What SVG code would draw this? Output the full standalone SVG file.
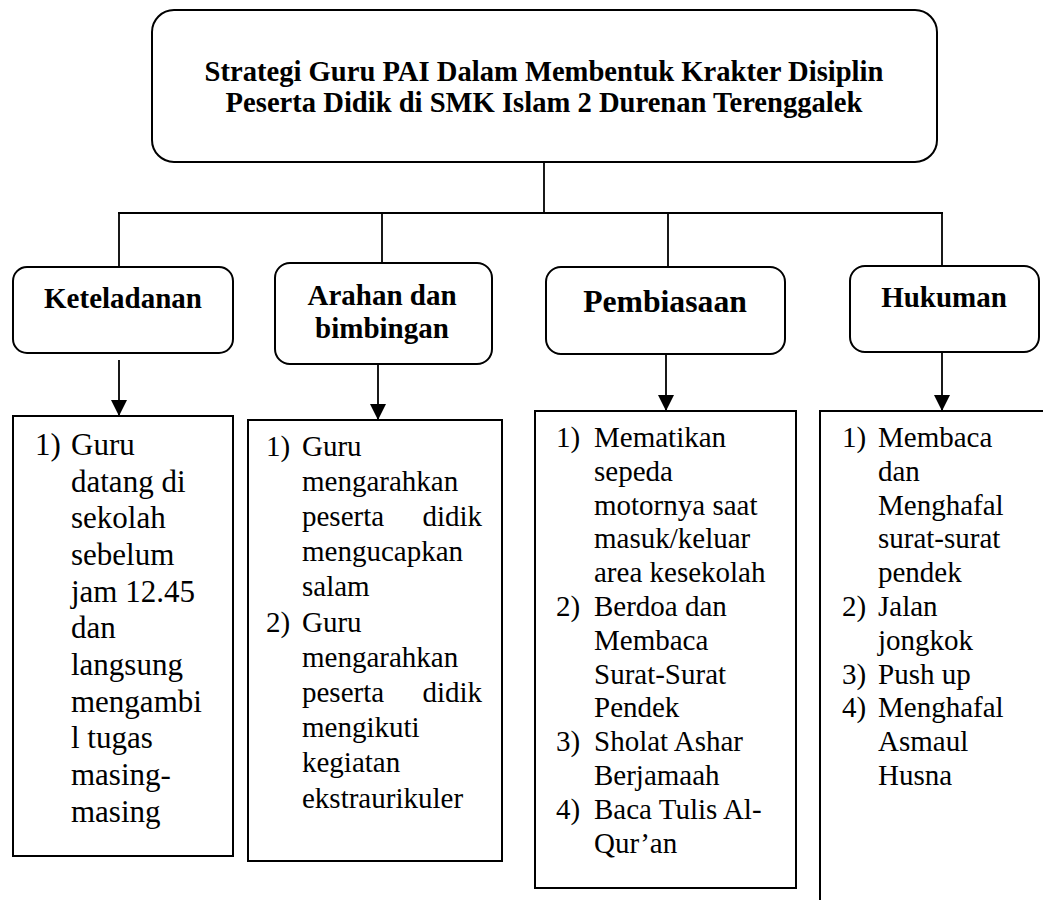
<svg xmlns="http://www.w3.org/2000/svg" width="1043" height="900" viewBox="0 0 1043 900">
<style>
.box{fill:#fff;stroke:#000;stroke-width:2}
.ln{fill:none;stroke:#000;stroke-width:1.8}
.h{font-family:"Liberation Serif","Times New Roman",serif;font-weight:bold;fill:#000;text-anchor:middle}
.t{font-family:"Liberation Serif","Times New Roman",serif;font-size:29px;fill:#000}
.t1{font-family:"Liberation Serif","Times New Roman",serif;font-size:31px;fill:#000}
</style>
<defs>
<marker id="ah" markerWidth="16" markerHeight="16" refX="16" refY="8" orient="auto" markerUnits="userSpaceOnUse">
<path d="M0,0 L16,8 L0,16 Z" fill="#000"/>
</marker>
</defs>
<rect x="0" y="0" width="1043" height="900" fill="#fff"/>
<g id="connectors">
<line class="ln" x1="544" y1="162" x2="544" y2="213"/>
<line class="ln" x1="118" y1="213" x2="943" y2="213"/>
<line class="ln" x1="119" y1="213" x2="119" y2="267"/>
<line class="ln" x1="382" y1="213" x2="382" y2="263"/>
<line class="ln" x1="668" y1="213" x2="668" y2="267"/>
<line class="ln" x1="942" y1="213" x2="942" y2="266"/>
<line class="ln" x1="119" y1="360" x2="119" y2="416" marker-end="url(#ah)"/>
<line class="ln" x1="378" y1="364" x2="378" y2="420" marker-end="url(#ah)"/>
<line class="ln" x1="666" y1="354" x2="666" y2="411" marker-end="url(#ah)"/>
<line class="ln" x1="942" y1="352" x2="942" y2="411" marker-end="url(#ah)"/>
</g>
<g id="root">
<rect class="box" x="152" y="10" width="785" height="152" rx="22"/>
<text class="h" x="544" y="81" font-size="28.6">Strategi Guru PAI Dalam Membentuk Krakter Disiplin</text>
<text class="h" x="544" y="112" font-size="28.6">Peserta Didik di SMK Islam 2 Durenan Terenggalek</text>
</g>
<g id="keteladanan">
<rect class="box" x="13" y="267" width="220" height="86" rx="14"/>
<text class="h" x="123" y="308" font-size="29">Keteladanan</text>
</g>
<g id="arahan">
<rect class="box" x="275" y="263" width="217" height="101" rx="15"/>
<text class="h" x="382" y="305" font-size="29">Arahan dan</text>
<text class="h" x="382" y="338" font-size="29">bimbingan</text>
</g>
<g id="pembiasaan">
<rect class="box" x="546" y="267" width="239" height="87" rx="15"/>
<text class="h" x="665" y="312" font-size="31.7">Pembiasaan</text>
</g>
<g id="hukuman">
<rect class="box" x="850" y="266" width="189" height="86" rx="15"/>
<text class="h" x="944" y="307" font-size="29">Hukuman</text>
</g>
<g id="list-keteladanan">
<rect class="box" x="13" y="416" width="220" height="440"/>
<text class="t1" x="35" y="455">1)</text>
<text class="t1" x="71" y="455">Guru</text>
<text class="t1" x="71" y="492">datang di</text>
<text class="t1" x="71" y="528">sekolah</text>
<text class="t1" x="71" y="565">sebelum</text>
<text class="t1" x="71" y="602">jam 12.45</text>
<text class="t1" x="71" y="638">dan</text>
<text class="t1" x="71" y="675">langsung</text>
<text class="t1" x="71" y="712">mengambi</text>
<text class="t1" x="71" y="748">l tugas</text>
<text class="t1" x="71" y="785">masing-</text>
<text class="t1" x="71" y="822">masing</text>
</g>
<g id="list-arahan">
<rect class="box" x="248" y="420" width="254" height="441"/>
<text class="t" x="266" y="456">1)</text>
<text class="t" x="302" y="456">Guru</text>
<text class="t" x="302" y="491">mengarahkan</text>
<text class="t" x="302" y="526">peserta</text>
<text class="t" x="482" y="526" text-anchor="end">didik</text>
<text class="t" x="302" y="561">mengucapkan</text>
<text class="t" x="302" y="596">salam</text>
<text class="t" x="266" y="632">2)</text>
<text class="t" x="302" y="632">Guru</text>
<text class="t" x="302" y="667">mengarahkan</text>
<text class="t" x="302" y="702">peserta</text>
<text class="t" x="482" y="702" text-anchor="end">didik</text>
<text class="t" x="302" y="737">mengikuti</text>
<text class="t" x="302" y="772">kegiatan</text>
<text class="t" x="302" y="808">ekstraurikuler</text>
</g>
<g id="list-pembiasaan">
<rect class="box" x="535" y="411" width="261" height="477"/>
<text class="t" x="556" y="447">1)</text>
<text class="t" x="594" y="447">Mematikan</text>
<text class="t" x="594" y="481">sepeda</text>
<text class="t" x="594" y="515">motornya saat</text>
<text class="t" x="594" y="548">masuk/keluar</text>
<text class="t" x="594" y="582">area kesekolah</text>
<text class="t" x="556" y="616">2)</text>
<text class="t" x="594" y="616">Berdoa dan</text>
<text class="t" x="594" y="650">Membaca</text>
<text class="t" x="594" y="684">Surat-Surat</text>
<text class="t" x="594" y="717">Pendek</text>
<text class="t" x="556" y="751">3)</text>
<text class="t" x="594" y="751">Sholat Ashar</text>
<text class="t" x="594" y="785">Berjamaah</text>
<text class="t" x="556" y="819">4)</text>
<text class="t" x="594" y="819">Baca Tulis Al-</text>
<text class="t" x="594" y="853">Qur’an</text>
</g>
<g id="list-hukuman">
<rect class="box" x="820" y="411" width="260" height="520"/>
<text class="t" x="842" y="447">1)</text>
<text class="t" x="878" y="447">Membaca</text>
<text class="t" x="878" y="481">dan</text>
<text class="t" x="878" y="515">Menghafal</text>
<text class="t" x="878" y="548">surat-surat</text>
<text class="t" x="878" y="582">pendek</text>
<text class="t" x="842" y="616">2)</text>
<text class="t" x="878" y="616">Jalan</text>
<text class="t" x="878" y="650">jongkok</text>
<text class="t" x="842" y="684">3)</text>
<text class="t" x="878" y="684">Push up</text>
<text class="t" x="842" y="717">4)</text>
<text class="t" x="878" y="717">Menghafal</text>
<text class="t" x="878" y="751">Asmaul</text>
<text class="t" x="878" y="785">Husna</text>
</g>
</svg>
